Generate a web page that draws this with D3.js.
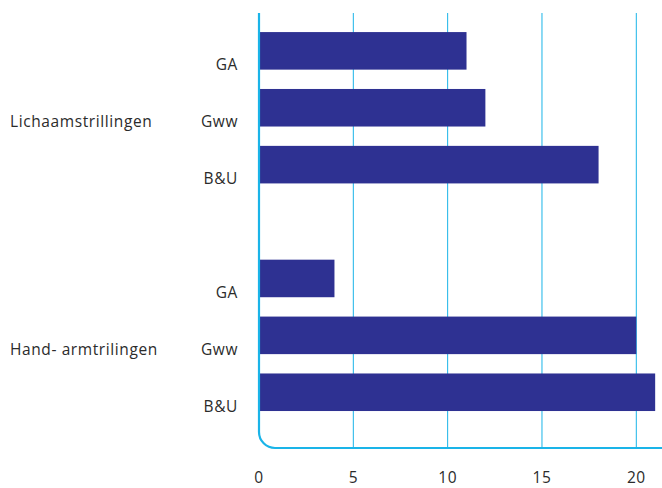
<!DOCTYPE html>
<html>
<head>
<meta charset="utf-8">
<script src="https://cdn.jsdelivr.net/npm/d3@7"></script>
<style>
  html, body { margin: 0; padding: 0; background: #fff; }
  svg { display: block; }
  text { font-family: "Open Sans", "Noto Sans", sans-serif; fill: #2b2b2b; }
</style>
</head>
<body>
<script>
// Vibration exposure per sector
const groups = ["Lichaamstrillingen", "Hand- armtrilingen"];
const sectors = ["GA", "Gww", "B&U"];
const bodyValues = [11, 12, 18];
const handArmValues = [4, 20, 21];
const xTicks = [0, 5, 10, 15, 20];

const W = 662, H = 488;
const plotTop = 13, plotBottom = 448, plotLeft = 259;

// Rows: three sectors per group with an empty spacer row between the groups
const rows = [];
groups.forEach((g, gi) => {
  const vals = gi === 0 ? bodyValues : handArmValues;
  sectors.forEach((s, si) => rows.push({ key: g + "|" + s, group: g, sector: s, value: vals[si], gi, si }));
  if (gi < groups.length - 1) rows.push({ key: "gap" + gi, spacer: true });
});

const svg = d3.select("body").append("svg").attr("width", W).attr("height", H);

const x = d3.scaleLinear().domain([0, 20]).range([plotLeft, 636.3]);
const y = d3.scaleBand().domain(rows.map(r => r.key)).range([22.4, 420.7])
  .paddingInner(0.34).paddingOuter(0.17);

const axisColor = "#1ab4e8";

// Vertical gridlines
svg.append("g").selectAll("line").data(xTicks.filter(t => t > 0)).join("line")
  .attr("x1", d => x(d)).attr("x2", d => x(d))
  .attr("y1", plotTop).attr("y2", plotBottom)
  .attr("stroke", axisColor).attr("stroke-width", 1);

// Bars
const data = rows.filter(r => !r.spacer);
svg.append("g").selectAll("rect").data(data).join("rect")
  .attr("x", x(0)).attr("y", d => y(d.key))
  .attr("width", d => x(d.value) - x(0)).attr("height", y.bandwidth())
  .attr("fill", "#2e3192");

// Axis frame with rounded bottom-left corner
const r = 16;
svg.append("path")
  .attr("d", `M${plotLeft},${plotTop} V${plotBottom - r} A${r},${r} 0 0 0 ${plotLeft + r},${plotBottom} H${W}`)
  .attr("fill", "none").attr("stroke", axisColor).attr("stroke-width", 2.2);

const fs = 15.5, ls = 0.6;

// X tick labels
svg.append("g").selectAll("text").data(xTicks).join("text")
  .attr("x", d => x(d)).attr("y", 483)
  .attr("text-anchor", "middle").attr("font-size", 15.5).attr("letter-spacing", 0.5)
  .text(d => d);

// Sector labels
svg.append("g").selectAll("text").data(data).join("text")
  .attr("x", 238).attr("y", d => y(d.key) + y.bandwidth() / 2 + 19.5)
  .attr("text-anchor", "end").attr("font-size", fs).attr("letter-spacing", ls)
  .text(d => d.sector);

// Group labels, aligned with the middle sector
svg.append("g").selectAll("text").data(data.filter(d => d.si === 1)).join("text")
  .attr("x", 10).attr("y", d => y(d.key) + y.bandwidth() / 2 + 19.5)
  .attr("font-size", fs).attr("letter-spacing", ls)
  .text(d => d.group);
</script>
</body>
</html>
